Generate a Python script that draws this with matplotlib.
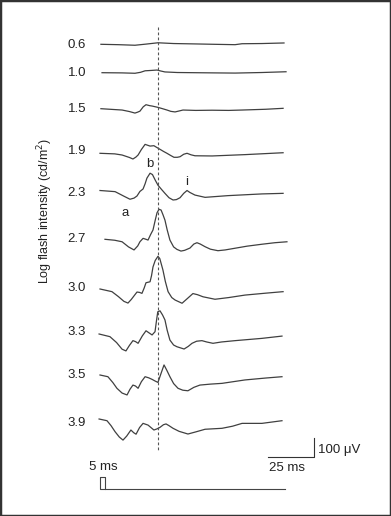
import matplotlib.pyplot as plt
from matplotlib.patches import Rectangle

plt.rcParams['font.family'] = ['Liberation Sans', 'DejaVu Sans']

# log flash intensity of each trace (cd/m2)
intensities = ["0.6", "1.0", "1.5", "1.9", "2.3", "2.7", "3.0", "3.3", "3.5", "3.9"]

# time after flash (ms) and response (uV, from baseline), one pair per trace
t_06 = [0.5, 10, 19, 25, 31.5, 40, 51.6, 62, 73.4, 77.2, 88, 100]
v_06 = [0, -2, -5, 1, 8, 4, 2, 0, -2, 3, 4, 7]

t_10 = [1.1, 12, 19, 22, 24.5, 28, 31, 33, 35.3, 42, 51.6, 62, 73.4, 88, 101.1]
v_10 = [0, -1, -3, 2, 10, 12, 14, 9, 4, 1, 0, -1, -2, 1, 5]

t_15 = [0.5, 12, 16, 19, 20.5, 21.7, 23.5, 25, 27, 28.3, 31.5, 34, 36.4, 38.5, 40.8,
        43, 45.1, 52, 60.9, 70, 77.2, 90, 99.5]
v_15 = [0, -7, -15, -23, -18, -13, 10, 21, 16, 14, 7, 0, -7, -14, -17,
        -12, -7, -9, -8, -9, -7, -3, 2]

t_19 = [0, 8, 12, 16, 17.9, 19.5, 20.7, 22.5, 24.5, 26, 27.2, 29.3, 31, 32.6, 34.5,
        36.4, 38.5, 40.2, 42, 43.5, 45.5, 47.3, 49.5, 51.6, 60.9, 78.8, 99.5]
v_19 = [0, -3, -9, -22, -30, -20, -9, 20, 47, 42, 38, 40, 30, 21, 10,
        0, -12, -21, -21, -18, -5, 0, -8, -13, -14, -7, 3]

t_23 = [0, 8.2, 13, 16.3, 18.5, 20.1, 21.7, 23.4, 24.5, 25.5, 27.2, 28.5, 30, 31.5,
        33.5, 35.3, 37.5, 39.7, 41.5, 43.5, 45.5, 47.3, 48.8, 51.6, 57.1, 69.6, 88, 99.5]
v_23 = [0, -6, -30, -46, -40, -29, -5, 8, 35, 65, 91, 84, 55, 28,
        5, -15, -38, -50, -48, -38, -15, 0, -10, -24, -36, -27, -18, -15]

t_27 = [2.7, 8, 12, 15.5, 18.5, 20.5, 21.7, 23.4, 25, 26.1, 27.5, 28.8, 30, 31, 32.1,
        33.2, 34.2, 35.3, 36.5, 38, 40, 41.8, 44, 46, 48.9, 51, 52.7, 54.5, 57.1, 60,
        64.1, 68, 73.4, 80, 88, 95, 101.6]
v_27 = [0, -5, -13, -40, -56, -35, -13, 5, 0, -4, 25, 49, 100, 140, 158,
        154, 130, 101, 50, -4, -40, -53, -62, -58, -46, -25, -18, -25, -39, -52,
        -60, -56, -47, -36, -26, -18, -13]

t_30 = [0, 6.5, 10, 13, 15.2, 17, 20.1, 21.5, 22.8, 24, 25, 27.2, 28, 28.8, 30, 31.5,
        32.5, 34.2, 35.5, 37, 39, 40.8, 44.6, 47.5, 50.5, 53, 56, 62.5, 70, 78.8, 90, 99.5]
v_30 = [0, -14, -40, -65, -74, -55, -16, -18, -23, 5, 33, 38, 70, 116, 150, 172,
        160, 100, 40, -14, -45, -58, -75, -50, -24, -30, -41, -54, -45, -32, -22, -14]

t_33 = [-0.5, 5.4, 9, 12, 14.1, 16, 17.9, 19.3, 20.7, 23, 25, 26.8, 28.3, 29.9, 30.7,
        31.4, 32.6, 34, 35.3, 36.5, 38, 40, 41.8, 45.7, 48, 50, 52.5, 55.4, 58, 61.4,
        66, 73.4, 88, 98.9]
v_33 = [0, -14, -45, -80, -89, -60, -35, -40, -49, -10, 17, 5, -5, 12, 70,
        117, 122, 100, 74, 20, -32, -58, -67, -79, -65, -49, -38, -35, -42, -49,
        -42, -35, -23, -11]

t_35 = [0, 4.3, 7, 9.2, 12, 14.7, 16.3, 17.9, 19.3, 20.7, 22.5, 24.5, 26.5, 28.3, 30,
        31.5, 33.2, 34.8, 36.3, 38, 40, 42.4, 45, 47.8, 51, 54.3, 60, 66.3, 78.8, 90, 98.9]
v_35 = [0, -9, -40, -70, -95, -105, -75, -53, -58, -70, -35, -9, -15, -23, -32,
        -39, 9, 53, 25, -9, -45, -70, -80, -83, -65, -53, -48, -44, -26, -16, -9]

t_39 = [-0.5, 3.8, 6, 8.2, 10.5, 12.5, 14.5, 16.8, 18.3, 19.6, 21.5, 23.4, 26.1, 29.3,
        31, 32.6, 34.5, 35.9, 37.5, 39.7, 43, 47.8, 52, 57.1, 66.3, 72, 77.2, 88, 98.9]
v_39 = [0, -9, -35, -67, -95, -111, -90, -58, -72, -80, -45, -23, -32, -58,
        -52, -44, -30, -26, -35, -49, -65, -79, -68, -54, -49, -38, -23, -23, -9]

times = [t_06, t_10, t_15, t_19, t_23, t_27, t_30, t_33, t_35, t_39]
resps = [v_06, v_10, v_15, v_19, v_23, v_27, v_30, v_33, v_35, v_39]

ref_line_ms = 31.5      # dashed vertical line
flash_ms = 2.5          # flash duration
sweep_ms = 100.5
scale_ms = 25
scale_uv = 100

# layout: figure pixels -> data units (ms, uV)
W, H = 391, 516
X0, PX_MS, PX_UV = 100, 1.84, 0.19


def px_x(x):
    return (x - X0) / PX_MS


def px_y(y):
    return (H - y) / PX_UV


trace_base = [44.3, 72.7, 108.7, 153.3, 190.5, 239.3, 289, 334, 375, 419]
label_y = [45, 73.3, 109.3, 151, 193.3, 239.3, 288.3, 332.3, 375, 422.7]

fig = plt.figure(figsize=(W / 100, H / 100), dpi=100)
ax = fig.add_axes([0, 0, 1, 1])
ax.set_xlim(px_x(0), px_x(W))
ax.set_ylim(0, H / PX_UV)
ax.axis('off')

col = '#404040'
for t, v, base, lab, ly in zip(times, resps, trace_base, intensities, label_y):
    off = px_y(base)
    ax.plot(t, [off + a for a in v], color=col, lw=0.9, solid_joinstyle='round')
    ax.text(px_x(86), px_y(ly), lab, ha='right', va='center', fontsize=9.5, color='#222')

ax.plot([ref_line_ms, ref_line_ms], [px_y(27), px_y(452)], color='#555',
        lw=0.8, ls=(0, (2.5, 2)))

fs = 9.5
ax.text(px_x(150), px_y(164), "b", ha='center', va='center', fontsize=fs, color='#222')
ax.text(px_x(187), px_y(182), "i", ha='center', va='center', fontsize=fs, color='#222')
ax.text(px_x(125), px_y(213), "a", ha='center', va='center', fontsize=fs, color='#222')

ax.text(px_x(45), px_y(211), "Log flash intensity (cd/m$^2$)", rotation=90,
        ha='center', va='center', fontsize=9, color='#222')

# scale bar
sx, sy = px_x(314), px_y(457.3)
ax.plot([sx - scale_ms, sx, sx], [sy, sy, sy + scale_uv], color='#333', lw=0.8)
ax.text(px_x(318), px_y(449.5), "100 \u03bcV", ha='left', va='center', fontsize=fs, color='#222')
ax.text(px_x(269), px_y(468), "25 ms", ha='left', va='center', fontsize=fs, color='#222')
ax.text(px_x(89), px_y(467), "5 ms", ha='left', va='center', fontsize=fs, color='#222')

# flash marker
fb, ft = px_y(489), px_y(477.3)
ax.plot([flash_ms, 0, 0, flash_ms, flash_ms, sweep_ms], [fb, fb, ft, ft, fb, fb],
        color='#444', lw=0.8)

fig.patches.append(Rectangle((0, 0), 1, 1, transform=fig.transFigure, fill=False,
                             edgecolor='#333', lw=2.5))

fig.savefig("out.png", dpi=100)
